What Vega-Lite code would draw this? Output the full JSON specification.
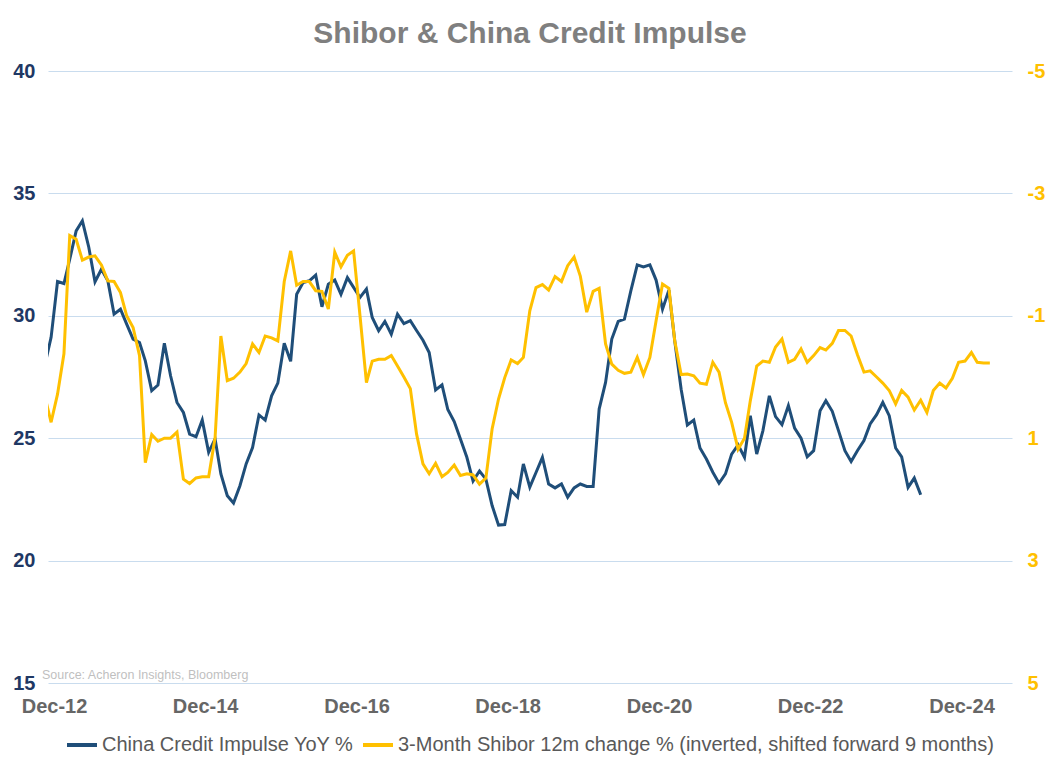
{
  "$schema": "https://vega.github.io/schema/vega-lite/v6.json",
  "width": 964,
  "height": 612,
  "autosize": {"type": "none"},
  "padding": {"left": 48, "top": 71, "right": 47, "bottom": 84},
  "background": "white",
  "title": {"text": "Shibor & China Credit Impulse", "fontSize": 30, "fontWeight": "bold", "color": "#7F7F7F", "font": "Liberation Sans", "anchor": "middle", "offset": 12},
  "datasets": {
    "credit": [
      {"date": "2012-11-01", "value": 28.0},
      {"date": "2012-12-01", "value": 29.12},
      {"date": "2013-01-01", "value": 31.4},
      {"date": "2013-02-01", "value": 31.32},
      {"date": "2013-03-01", "value": 32.31},
      {"date": "2013-04-01", "value": 33.47},
      {"date": "2013-05-01", "value": 33.88},
      {"date": "2013-06-01", "value": 32.8},
      {"date": "2013-07-01", "value": 31.39},
      {"date": "2013-08-01", "value": 31.9},
      {"date": "2013-09-01", "value": 31.43},
      {"date": "2013-10-01", "value": 30.07},
      {"date": "2013-11-01", "value": 30.27},
      {"date": "2013-12-01", "value": 29.66},
      {"date": "2014-01-01", "value": 29.05},
      {"date": "2014-02-01", "value": 28.91},
      {"date": "2014-03-01", "value": 28.16},
      {"date": "2014-04-01", "value": 26.94},
      {"date": "2014-05-01", "value": 27.17},
      {"date": "2014-06-01", "value": 28.88},
      {"date": "2014-07-01", "value": 27.55},
      {"date": "2014-08-01", "value": 26.46},
      {"date": "2014-09-01", "value": 26.05},
      {"date": "2014-10-01", "value": 25.17},
      {"date": "2014-11-01", "value": 25.06},
      {"date": "2014-12-01", "value": 25.74},
      {"date": "2015-01-01", "value": 24.42},
      {"date": "2015-02-01", "value": 24.97},
      {"date": "2015-03-01", "value": 23.54},
      {"date": "2015-04-01", "value": 22.65},
      {"date": "2015-05-01", "value": 22.35},
      {"date": "2015-06-01", "value": 23.06},
      {"date": "2015-07-01", "value": 23.95},
      {"date": "2015-08-01", "value": 24.62},
      {"date": "2015-09-01", "value": 25.95},
      {"date": "2015-10-01", "value": 25.74},
      {"date": "2015-11-01", "value": 26.73},
      {"date": "2015-12-01", "value": 27.25},
      {"date": "2016-01-01", "value": 28.88},
      {"date": "2016-02-01", "value": 28.14},
      {"date": "2016-03-01", "value": 30.88},
      {"date": "2016-04-01", "value": 31.36},
      {"date": "2016-05-01", "value": 31.43},
      {"date": "2016-06-01", "value": 31.66},
      {"date": "2016-07-01", "value": 30.37},
      {"date": "2016-08-01", "value": 31.29},
      {"date": "2016-09-01", "value": 31.46},
      {"date": "2016-10-01", "value": 30.88},
      {"date": "2016-11-01", "value": 31.56},
      {"date": "2016-12-01", "value": 31.16},
      {"date": "2017-01-01", "value": 30.75},
      {"date": "2017-02-01", "value": 31.09},
      {"date": "2017-03-01", "value": 29.93},
      {"date": "2017-04-01", "value": 29.39},
      {"date": "2017-05-01", "value": 29.77},
      {"date": "2017-06-01", "value": 29.25},
      {"date": "2017-07-01", "value": 30.07},
      {"date": "2017-08-01", "value": 29.68},
      {"date": "2017-09-01", "value": 29.8},
      {"date": "2017-10-01", "value": 29.4},
      {"date": "2017-11-01", "value": 29.0},
      {"date": "2017-12-01", "value": 28.5},
      {"date": "2018-01-01", "value": 26.97},
      {"date": "2018-02-01", "value": 27.18},
      {"date": "2018-03-01", "value": 26.17},
      {"date": "2018-04-01", "value": 25.68},
      {"date": "2018-05-01", "value": 24.97},
      {"date": "2018-06-01", "value": 24.22},
      {"date": "2018-07-01", "value": 23.25},
      {"date": "2018-08-01", "value": 23.66},
      {"date": "2018-09-01", "value": 23.33},
      {"date": "2018-10-01", "value": 22.25},
      {"date": "2018-11-01", "value": 21.45},
      {"date": "2018-12-01", "value": 21.47},
      {"date": "2019-01-01", "value": 22.86},
      {"date": "2019-02-01", "value": 22.59},
      {"date": "2019-03-01", "value": 23.95},
      {"date": "2019-04-01", "value": 23.0},
      {"date": "2019-05-01", "value": 23.6},
      {"date": "2019-06-01", "value": 24.22},
      {"date": "2019-07-01", "value": 23.13},
      {"date": "2019-08-01", "value": 22.97},
      {"date": "2019-09-01", "value": 23.13},
      {"date": "2019-10-01", "value": 22.59},
      {"date": "2019-11-01", "value": 22.97},
      {"date": "2019-12-01", "value": 23.13},
      {"date": "2020-01-01", "value": 23.03},
      {"date": "2020-02-01", "value": 23.03},
      {"date": "2020-03-01", "value": 26.19},
      {"date": "2020-04-01", "value": 27.28},
      {"date": "2020-05-01", "value": 29.05},
      {"date": "2020-06-01", "value": 29.77},
      {"date": "2020-07-01", "value": 29.86},
      {"date": "2020-08-01", "value": 31.02},
      {"date": "2020-09-01", "value": 32.08},
      {"date": "2020-10-01", "value": 32.0},
      {"date": "2020-11-01", "value": 32.08},
      {"date": "2020-12-01", "value": 31.46},
      {"date": "2021-01-01", "value": 30.27},
      {"date": "2021-02-01", "value": 31.05},
      {"date": "2021-03-01", "value": 28.98},
      {"date": "2021-04-01", "value": 27.0},
      {"date": "2021-05-01", "value": 25.54},
      {"date": "2021-06-01", "value": 25.74},
      {"date": "2021-07-01", "value": 24.6},
      {"date": "2021-08-01", "value": 24.15},
      {"date": "2021-09-01", "value": 23.61},
      {"date": "2021-10-01", "value": 23.16},
      {"date": "2021-11-01", "value": 23.54},
      {"date": "2021-12-01", "value": 24.35},
      {"date": "2022-01-01", "value": 24.73},
      {"date": "2022-02-01", "value": 24.22},
      {"date": "2022-03-01", "value": 25.92},
      {"date": "2022-04-01", "value": 24.35},
      {"date": "2022-05-01", "value": 25.31},
      {"date": "2022-06-01", "value": 26.73},
      {"date": "2022-07-01", "value": 25.88},
      {"date": "2022-08-01", "value": 25.55},
      {"date": "2022-09-01", "value": 26.33},
      {"date": "2022-10-01", "value": 25.41},
      {"date": "2022-11-01", "value": 25.0},
      {"date": "2022-12-01", "value": 24.24},
      {"date": "2023-01-01", "value": 24.49},
      {"date": "2023-02-01", "value": 26.12},
      {"date": "2023-03-01", "value": 26.53},
      {"date": "2023-04-01", "value": 26.1},
      {"date": "2023-05-01", "value": 25.31},
      {"date": "2023-06-01", "value": 24.49},
      {"date": "2023-07-01", "value": 24.05},
      {"date": "2023-08-01", "value": 24.5},
      {"date": "2023-09-01", "value": 24.9},
      {"date": "2023-10-01", "value": 25.58},
      {"date": "2023-11-01", "value": 25.96},
      {"date": "2023-12-01", "value": 26.46},
      {"date": "2024-01-01", "value": 25.92},
      {"date": "2024-02-01", "value": 24.6},
      {"date": "2024-03-01", "value": 24.24},
      {"date": "2024-04-01", "value": 22.99},
      {"date": "2024-05-01", "value": 23.37},
      {"date": "2024-06-01", "value": 22.69}
    ],
    "shibor": [
      {"date": "2012-11-01", "value": 0.32},
      {"date": "2012-12-01", "value": 0.74},
      {"date": "2013-01-01", "value": 0.28},
      {"date": "2013-02-01", "value": -0.38},
      {"date": "2013-03-01", "value": -2.31},
      {"date": "2013-04-01", "value": -2.25},
      {"date": "2013-05-01", "value": -1.91},
      {"date": "2013-06-01", "value": -1.96},
      {"date": "2013-07-01", "value": -1.98},
      {"date": "2013-08-01", "value": -1.83},
      {"date": "2013-09-01", "value": -1.57},
      {"date": "2013-10-01", "value": -1.56},
      {"date": "2013-11-01", "value": -1.38},
      {"date": "2013-12-01", "value": -1.0},
      {"date": "2014-01-01", "value": -0.81},
      {"date": "2014-02-01", "value": -0.35},
      {"date": "2014-03-01", "value": 1.4},
      {"date": "2014-04-01", "value": 0.94},
      {"date": "2014-05-01", "value": 1.05},
      {"date": "2014-06-01", "value": 1.0},
      {"date": "2014-07-01", "value": 1.0},
      {"date": "2014-08-01", "value": 0.9},
      {"date": "2014-09-01", "value": 1.67},
      {"date": "2014-10-01", "value": 1.74},
      {"date": "2014-11-01", "value": 1.65},
      {"date": "2014-12-01", "value": 1.63},
      {"date": "2015-01-01", "value": 1.63},
      {"date": "2015-02-01", "value": 0.99},
      {"date": "2015-03-01", "value": -0.67},
      {"date": "2015-04-01", "value": 0.06},
      {"date": "2015-05-01", "value": 0.02},
      {"date": "2015-06-01", "value": -0.08},
      {"date": "2015-07-01", "value": -0.22},
      {"date": "2015-08-01", "value": -0.54},
      {"date": "2015-09-01", "value": -0.4},
      {"date": "2015-10-01", "value": -0.67},
      {"date": "2015-11-01", "value": -0.64},
      {"date": "2015-12-01", "value": -0.59},
      {"date": "2016-01-01", "value": -1.56},
      {"date": "2016-02-01", "value": -2.06},
      {"date": "2016-03-01", "value": -1.5},
      {"date": "2016-04-01", "value": -1.56},
      {"date": "2016-05-01", "value": -1.56},
      {"date": "2016-06-01", "value": -1.41},
      {"date": "2016-07-01", "value": -1.4},
      {"date": "2016-08-01", "value": -1.11},
      {"date": "2016-09-01", "value": -2.04},
      {"date": "2016-10-01", "value": -1.8},
      {"date": "2016-11-01", "value": -1.99},
      {"date": "2016-12-01", "value": -2.06},
      {"date": "2017-01-01", "value": -1.0},
      {"date": "2017-02-01", "value": 0.09},
      {"date": "2017-03-01", "value": -0.26},
      {"date": "2017-04-01", "value": -0.29},
      {"date": "2017-05-01", "value": -0.29},
      {"date": "2017-06-01", "value": -0.35},
      {"date": "2017-07-01", "value": -0.18},
      {"date": "2017-08-01", "value": 0.0},
      {"date": "2017-09-01", "value": 0.19},
      {"date": "2017-10-01", "value": 0.93},
      {"date": "2017-11-01", "value": 1.42},
      {"date": "2017-12-01", "value": 1.58},
      {"date": "2018-01-01", "value": 1.41},
      {"date": "2018-02-01", "value": 1.63},
      {"date": "2018-03-01", "value": 1.56},
      {"date": "2018-04-01", "value": 1.44},
      {"date": "2018-05-01", "value": 1.61},
      {"date": "2018-06-01", "value": 1.58},
      {"date": "2018-07-01", "value": 1.6},
      {"date": "2018-08-01", "value": 1.75},
      {"date": "2018-09-01", "value": 1.65},
      {"date": "2018-10-01", "value": 0.85},
      {"date": "2018-11-01", "value": 0.36},
      {"date": "2018-12-01", "value": 0.01},
      {"date": "2019-01-01", "value": -0.28},
      {"date": "2019-02-01", "value": -0.22},
      {"date": "2019-03-01", "value": -0.32},
      {"date": "2019-04-01", "value": -1.08},
      {"date": "2019-05-01", "value": -1.46},
      {"date": "2019-06-01", "value": -1.51},
      {"date": "2019-07-01", "value": -1.42},
      {"date": "2019-08-01", "value": -1.64},
      {"date": "2019-09-01", "value": -1.56},
      {"date": "2019-10-01", "value": -1.82},
      {"date": "2019-11-01", "value": -1.96},
      {"date": "2019-12-01", "value": -1.65},
      {"date": "2020-01-01", "value": -1.06},
      {"date": "2020-02-01", "value": -1.4},
      {"date": "2020-03-01", "value": -1.45},
      {"date": "2020-04-01", "value": -0.54},
      {"date": "2020-05-01", "value": -0.21},
      {"date": "2020-06-01", "value": -0.11},
      {"date": "2020-07-01", "value": -0.06},
      {"date": "2020-08-01", "value": -0.08},
      {"date": "2020-09-01", "value": -0.32},
      {"date": "2020-10-01", "value": -0.04},
      {"date": "2020-11-01", "value": -0.32},
      {"date": "2020-12-01", "value": -0.92},
      {"date": "2021-01-01", "value": -1.52},
      {"date": "2021-02-01", "value": -1.45},
      {"date": "2021-03-01", "value": -0.59},
      {"date": "2021-04-01", "value": -0.04},
      {"date": "2021-05-01", "value": -0.05},
      {"date": "2021-06-01", "value": -0.02},
      {"date": "2021-07-01", "value": 0.1},
      {"date": "2021-08-01", "value": 0.12},
      {"date": "2021-09-01", "value": -0.24},
      {"date": "2021-10-01", "value": -0.08},
      {"date": "2021-11-01", "value": 0.42},
      {"date": "2021-12-01", "value": 0.74},
      {"date": "2022-01-01", "value": 1.18},
      {"date": "2022-02-01", "value": 1.0},
      {"date": "2022-03-01", "value": 0.39},
      {"date": "2022-04-01", "value": -0.18},
      {"date": "2022-05-01", "value": -0.26},
      {"date": "2022-06-01", "value": -0.24},
      {"date": "2022-07-01", "value": -0.49},
      {"date": "2022-08-01", "value": -0.62},
      {"date": "2022-09-01", "value": -0.24},
      {"date": "2022-10-01", "value": -0.29},
      {"date": "2022-11-01", "value": -0.46},
      {"date": "2022-12-01", "value": -0.24},
      {"date": "2023-01-01", "value": -0.35},
      {"date": "2023-02-01", "value": -0.48},
      {"date": "2023-03-01", "value": -0.44},
      {"date": "2023-04-01", "value": -0.55},
      {"date": "2023-05-01", "value": -0.76},
      {"date": "2023-06-01", "value": -0.76},
      {"date": "2023-07-01", "value": -0.67},
      {"date": "2023-08-01", "value": -0.36},
      {"date": "2023-09-01", "value": -0.08},
      {"date": "2023-10-01", "value": -0.1},
      {"date": "2023-11-01", "value": 0.0},
      {"date": "2023-12-01", "value": 0.1},
      {"date": "2024-01-01", "value": 0.22},
      {"date": "2024-02-01", "value": 0.44},
      {"date": "2024-03-01", "value": 0.22},
      {"date": "2024-04-01", "value": 0.33},
      {"date": "2024-05-01", "value": 0.54},
      {"date": "2024-06-01", "value": 0.38},
      {"date": "2024-07-01", "value": 0.58},
      {"date": "2024-08-01", "value": 0.22},
      {"date": "2024-09-01", "value": 0.1},
      {"date": "2024-10-01", "value": 0.18},
      {"date": "2024-11-01", "value": 0.02},
      {"date": "2024-12-01", "value": -0.24},
      {"date": "2025-01-01", "value": -0.26},
      {"date": "2025-02-01", "value": -0.4},
      {"date": "2025-03-01", "value": -0.24},
      {"date": "2025-04-01", "value": -0.23},
      {"date": "2025-05-01", "value": -0.23}
    ]
  },
  "layer": [
    {
      "layer": [
        {
          "data": {"name": "credit"},
          "mark": {"type": "line", "strokeWidth": 3, "clip": true},
          "encoding": {
            "x": {
              "field": "date",
              "type": "temporal",
              "scale": {"type": "utc", "domain": [{"year": 2012, "month": 11, "date": 16, "utc": true}, {"year": 2025, "month": 8, "date": 16, "utc": true}]},
              "axis": {
                "title": null,
                "values": [
                  {"year": 2012, "month": 12, "date": 15, "utc": true},
                  {"year": 2014, "month": 12, "date": 15, "utc": true},
                  {"year": 2016, "month": 12, "date": 15, "utc": true},
                  {"year": 2018, "month": 12, "date": 15, "utc": true},
                  {"year": 2020, "month": 12, "date": 15, "utc": true},
                  {"year": 2022, "month": 12, "date": 15, "utc": true},
                  {"year": 2024, "month": 12, "date": 15, "utc": true}
                ],
                "format": "%b-%y",
                "grid": false,
                "domain": false,
                "ticks": false,
                "labelPadding": 13,
                "labelFontSize": 20,
                "labelFontWeight": "bold",
                "labelColor": "#666666",
                "labelFont": "Liberation Sans",
                "labelFlush": false,
                "labelOverlap": false
              }
            },
            "y": {
              "field": "value",
              "type": "quantitative",
              "scale": {"domain": [15, 40], "nice": false, "zero": false},
              "axis": {
                "title": null,
                "values": [15, 20, 25, 30, 35, 40],
                "grid": true,
                "gridColor": "#C9DCEE",
                "gridWidth": 1,
                "domain": false,
                "ticks": false,
                "labelPadding": 13,
                "labelFontSize": 20,
                "labelFontWeight": "bold",
                "labelColor": "#1F3864",
                "labelFont": "Liberation Sans"
              }
            },
            "color": {
              "datum": "China Credit Impulse YoY %",
              "type": "nominal",
              "scale": {
                "domain": ["China Credit Impulse YoY %", "3-Month Shibor 12m change % (inverted, shifted forward 9 months)"],
                "range": ["#1F4E79", "#FFC000"]
              },
              "legend": {
                "title": null,
                "orient": "none",
                "legendX": 17,
                "legendY": 657,
                "direction": "horizontal",
                "symbolType": "stroke",
                "symbolSize": 900,
                "symbolStrokeWidth": 4,
                "labelFontSize": 20,
                "labelColor": "#595959",
                "labelFont": "Liberation Sans",
                "labelLimit": 1000,
                "labelOffset": 3,
                "columnPadding": 1
              }
            }
          }
        },
        {
          "data": {"values": [{"label": "Source: Acheron Insights, Bloomberg"}]},
          "mark": {"type": "text", "align": "left", "baseline": "bottom", "dx": -6, "dy": -1, "fontSize": 12.5, "color": "#BFBFBF", "font": "Liberation Sans"},
          "encoding": {
            "x": {"datum": {"year": 2012, "month": 11, "date": 16, "utc": true}, "type": "temporal"},
            "y": {"datum": 15, "type": "quantitative"},
            "text": {"field": "label"}
          }
        }
      ]
    },
    {
      "data": {"name": "shibor"},
      "mark": {"type": "line", "strokeWidth": 3, "clip": true},
      "encoding": {
        "x": {"field": "date", "type": "temporal"},
        "y": {
          "field": "value",
          "type": "quantitative",
          "scale": {"domain": [-5, 5], "reverse": true, "nice": false, "zero": false},
          "axis": {
            "orient": "right",
            "title": null,
            "values": [-5, -3, -1, 1, 3, 5],
            "labelExpr": "'' + datum.value",
            "grid": false,
            "domain": false,
            "ticks": false,
            "labelPadding": 15,
            "labelFontSize": 20,
            "labelFontWeight": "bold",
            "labelColor": "#FFC000",
            "labelFont": "Liberation Sans"
          }
        },
        "color": {"datum": "3-Month Shibor 12m change % (inverted, shifted forward 9 months)", "type": "nominal"}
      }
    }
  ],
  "resolve": {"scale": {"y": "independent"}},
  "config": {"view": {"stroke": null}, "font": "Liberation Sans"}
}
